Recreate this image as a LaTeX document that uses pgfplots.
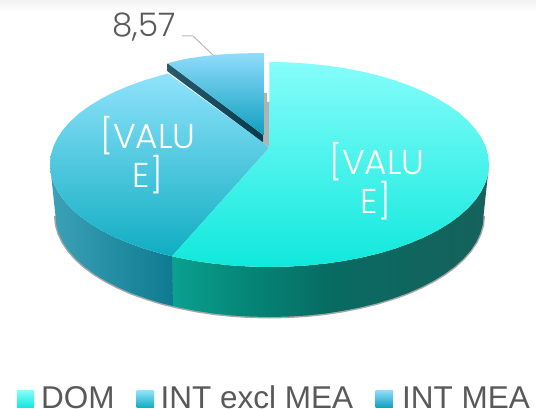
\documentclass[border=0pt]{standalone}
\usepackage{pgfplots}
\pgfplotsset{compat=1.18}
\usepackage{pgfplotstable}
\usepackage{fontspec}
\setmainfont{Liberation Sans}
\newfontfamily\lab{Poppins}[UprightFont=* Light]
\definecolor{legtxt}{HTML}{595959}
\definecolor{domT}{HTML}{85FDFB}\definecolor{domB}{HTML}{10E8DC}
\definecolor{intT}{HTML}{8FE3FB}\definecolor{intB}{HTML}{10ADC2}
\definecolor{meaT}{HTML}{90DCFB}\definecolor{meaB}{HTML}{0F9FC0}
\definecolor{meaWL}{HTML}{2A5A6C}\definecolor{meaWR}{HTML}{043B4D}
\definecolor{intWL}{HTML}{3CA2B8}\definecolor{intWR}{HTML}{0E7A90}
\pgfdeclarehorizontalshading{domwall}{100bp}{rgb(0bp)=(.043,.63,.565); rgb(25bp)=(.043,.63,.565); rgb(36bp)=(.02,.53,.47); rgb(50bp)=(.03,.42,.385); rgb(75bp)=(.09,.38,.36); rgb(100bp)=(.09,.38,.36)}
\pgfplotstableread{
x y
483.5 216
482.7 224.8
480.2 233.5
476.2 242.1
470.6 250.5
463.4 258.7
454.8 266.5
444.8 273.9
433.4 280.9
420.8 287.4
407.1 293.4
392.2 298.7
376.5 303.5
359.9 307.5
342.7 310.9
324.9 313.6
306.7 315.5
288.2 316.6
269.5 317
250.8 316.6
232.3 315.5
214.1 313.6
196.3 310.9
179.1 307.5
162.5 303.5
146.8 298.7
131.9 293.4
118.2 287.4
105.6 280.9
94.2 273.9
84.2 266.5
75.6 258.7
68.4 250.5
62.8 242.1
58.8 233.5
56.3 224.8
55.5 216
}\lowerarc
\begin{document}
\begin{tikzpicture}
\begin{axis}[width=536pt,height=412pt,scale only axis,hide axis,clip=false,
  xmin=0,xmax=536,ymin=0,ymax=412,y dir=reverse]
% faint band at the top
\addplot[draw=none,top color=black!5,bottom color=white] coordinates {(0,0)(536,0)(536,12)(0,12)} --cycle;
% shadow under the wall
\addplot[draw=black!35,line width=3pt] table {\lowerarc};
% DOM wall
\addplot[draw=none,shading=domwall] coordinates {
(489,164.5)(483.5,216)(482.7,224.8)(480.2,233.5)(476.2,242.1)(470.6,250.5)(463.4,258.7)(454.8,266.5)(444.8,273.9)(433.4,280.9)(420.8,287.4)(407.1,293.4)(392.2,298.7)(376.5,303.5)(359.9,307.5)(342.7,310.9)(324.9,313.6)(306.7,315.5)(288.2,316.6)(269.5,317)(250.8,316.6)(232.3,315.5)(214.1,313.6)(196.3,310.9)(179.1,307.5)(173,306)
(172,256.3)(176.7,257.4)(194.4,260.8)(212.7,263.5)(231.4,265.4)(250.4,266.6)(269.5,267)(288.6,266.6)(307.6,265.4)(326.3,263.5)(344.6,260.8)(362.3,257.4)(379.3,253.3)(395.4,248.5)(410.6,243)(424.7,237)(437.6,230.4)(449.3,223.3)(459.6,215.8)(468.4,207.8)(475.8,199.6)(481.5,191)(485.7,182.3)(488.2,173.4)
} --cycle;
% INT excl MEA wall
\addplot[draw=none,left color=intWL,right color=intWR] coordinates {
(173,306)(162.5,303.5)(146.8,298.7)(131.9,293.4)(118.2,287.4)(105.6,280.9)(94.2,273.9)(84.2,266.5)(75.6,258.7)(68.4,250.5)(62.8,242.1)(58.8,233.5)(56.3,224.8)(55.5,216)
(50,164.5)(50.8,173.4)(53.3,182.3)(57.5,191)(63.2,199.6)(70.6,207.8)(79.4,215.8)(89.7,223.3)(101.4,230.4)(114.3,237)(128.4,243)(143.6,248.5)(159.7,253.3)(172,256.3)
} --cycle;
% grey cut wall
\addplot[draw=none,fill=black!30] coordinates {(263,93)(267,93)(267,102)(270,102)(270,148)(264,143)} --cycle;
% INT excl MEA top
\addplot[draw=none,top color=intT,bottom color=intB] coordinates {
(172,256.3)(159.7,253.3)(143.6,248.5)(128.4,243)(114.3,237)(101.4,230.4)(89.7,223.3)(79.4,215.8)(70.6,207.8)(63.2,199.6)(57.5,191)(53.3,182.3)(50.8,173.4)(50,164.5)(50.8,155.6)(53.3,146.7)(57.5,138)(63.2,129.4)(70.6,121.2)(79.4,113.2)(89.7,105.7)(101.4,98.6)(114.3,92)(128.4,86)(143.6,80.5)(159.7,75.7)(168,73.5)(264,143)(269,148)
} --cycle;
% DOM top
\addplot[draw=none,top color=domT,bottom color=domB] coordinates {
(269.5,62)(288.6,62.4)(307.6,63.6)(326.3,65.5)(344.6,68.2)(362.3,71.6)(379.3,75.7)(395.4,80.5)(410.6,86)(424.7,92)(437.6,98.6)(449.3,105.7)(459.6,113.2)(468.4,121.2)(475.8,129.4)(481.5,138)(485.7,146.7)(488.2,155.6)(489,164.5)(488.2,173.4)(485.7,182.3)(481.5,191)(475.8,199.6)(468.4,207.8)(459.6,215.8)(449.3,223.3)(437.6,230.4)(424.7,237)(410.6,243)(395.4,248.5)(379.3,253.3)(362.3,257.4)(344.6,260.8)(326.3,263.5)(307.6,265.4)(288.6,266.6)(269.5,267)(250.4,266.6)(231.4,265.4)(212.7,263.5)(194.4,260.8)(176.7,257.4)(172,256.3)(269,148)
} --cycle;
% INT MEA wall and top
\addplot[draw=none,left color=meaWL,right color=meaWR] coordinates {(167.7,63.3)(263.3,135)(263.3,142.5)(167.7,71.5)} --cycle;
\addplot[draw=none,top color=meaT,bottom color=meaB] coordinates {(167.7,63.3)(178,60.6)(190,58.2)(202,56.4)(213,55.2)(225,54.2)(238,53.5)(250,53.2)(263.7,53)(263.3,135)} --cycle;
% leader
\addplot[draw=black!27,line width=1pt] coordinates {(182,36)(193,36)(213,55)};
% legend swatches
\addplot[draw=none,top color=domT,bottom color=domB] coordinates {(17,390.4)(34,390.4)(34,407.5)(17,407.5)} --cycle;
\addplot[draw=none,top color=intT,bottom color=intB] coordinates {(136.6,390.4)(154,390.4)(154,407.5)(136.6,407.5)} --cycle;
\addplot[draw=none,top color=meaT,bottom color=meaB] coordinates {(375.7,390.4)(392.8,390.4)(392.8,407.5)(375.7,407.5)} --cycle;
% texts
\node[inner sep=0,anchor=center,text=legtxt] at (axis cs:144,27) {\lab\fontsize{32.5}{36}\selectfont 8,57};
\node[inner sep=0,anchor=center,text=white] at (axis cs:148,136) {\lab\fontsize{34.5}{40}\selectfont [VALU};
\node[inner sep=0,anchor=center,text=white] at (axis cs:148,175) {\lab\fontsize{34.5}{40}\selectfont E]};
\node[inner sep=0,anchor=center,text=white] at (axis cs:377,162) {\lab\fontsize{34.5}{40}\selectfont [VALU};
\node[inner sep=0,anchor=center,text=white] at (axis cs:376,201) {\lab\fontsize{34.5}{40}\selectfont E]};
\node[inner sep=0,anchor=base west,text=legtxt] at (axis cs:41,408) {\fontsize{31.5}{36}\selectfont DOM};
\node[inner sep=0,anchor=base west,text=legtxt] at (axis cs:160.5,408) {\fontsize{31.5}{36}\selectfont INT excl MEA};
\node[inner sep=0,anchor=base west,text=legtxt] at (axis cs:402,408) {\fontsize{31.5}{36}\selectfont INT MEA};
\end{axis}
\end{tikzpicture}
\end{document}
